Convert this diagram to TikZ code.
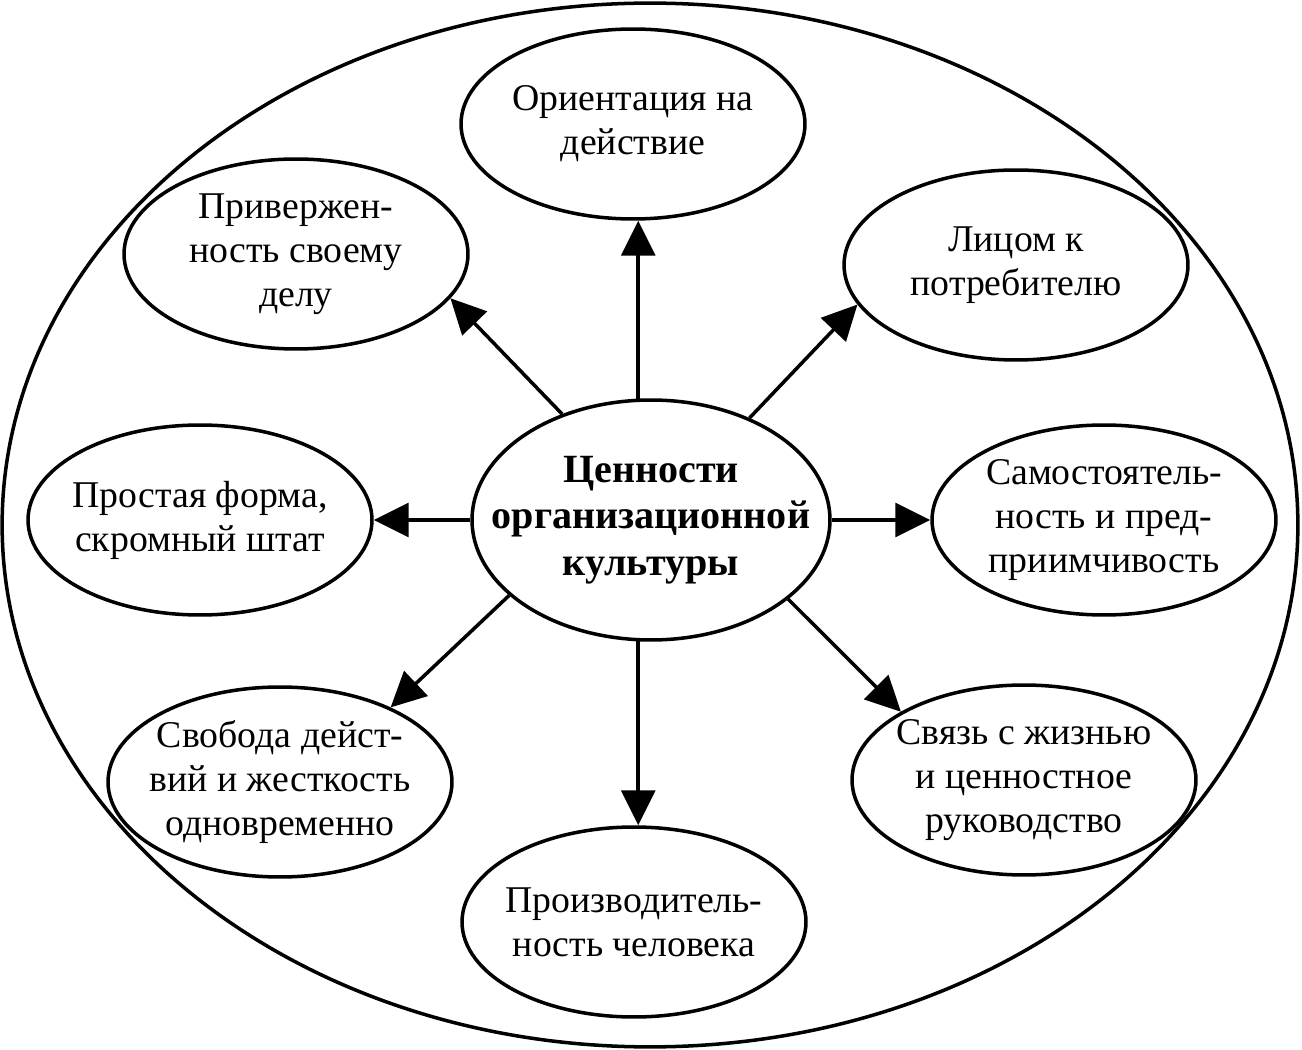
\documentclass[tikz,border=0pt]{standalone}
\usepackage{fontspec}
\setmainfont{Liberation Serif}
\usetikzlibrary{shapes.geometric,arrows.meta}

\begin{document}
\begin{tikzpicture}[x=0.02cm, y=-0.02cm, line width=2pt,
    main/.style = {draw, ellipse, inner xsep=-3cm, inner ysep=-2cm, minimum width=6.88cm, minimum height=3.8cm, align=center, font=\fontsize{21.5}{25}\selectfont},
    arr/.style = {-{Triangle[length=7mm, width=6.8mm]}}]
    \useasboundingbox (0,0) rectangle (1302,1050);
    \node[draw, ellipse, minimum width=25.92cm, minimum height=20.88cm] (frame) at (650,525) {};
    % centre
    \node[main, minimum width=7.16cm, minimum height=4.8cm, font=\bfseries\fontsize{22.8}{26.4}\selectfont] (c) at (651,520) {Ценности\\организационной\\культуры};
    % values round it
    \node[main] (ori) at (633,124) {Ориентация на\\действие};
    \node[main] (priv) at (296,254) {Привержен-\\ность своему\\делу};
    \node[main] (lic) at (1016,265) {Лицом к\\потребителю};
    \node[main] (prost) at (200,520) {Простая форма,\\скромный штат};
    \node[main] (sam) at (1104,520) {Самостоятель-\\ность и пред-\\приимчивость};
    \node[main] (svob) at (280,782) {Свобода дейст-\\вий и жесткость\\одновременно};
    \node[main] (svyaz) at (1024,780) {Связь с жизнью\\и ценностное\\руководство};
    \node[main] (proizv) at (634,922) {Производитель-\\ность человека};
    \draw[arr] (c.96) -- (ori.south -| c.96);
    \draw[arr] (c.130) -- (priv.-16);
    \draw[arr] (c.46) -- (lic.194);
    \draw[arr] (c.west) -- (prost.east);
    \draw[arr] (c.east) -- (sam.west);
    \draw[arr] (c.208) -- (svob.34);
    \draw[arr] (c.-30) -- (svyaz.151);
    \draw[arr] (c.264) -- (proizv.north -| c.264);
\end{tikzpicture}
\end{document}
